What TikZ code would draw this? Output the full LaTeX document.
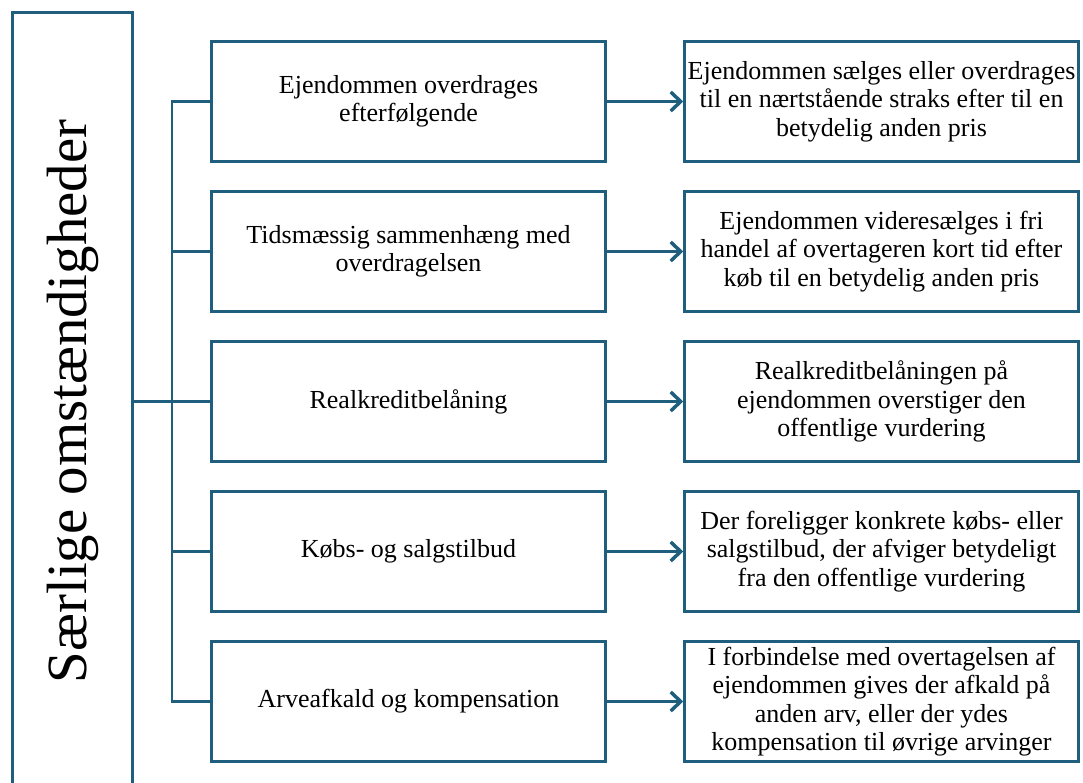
\documentclass[tikz,border=0pt]{standalone}
\usepackage{fontspec}
\setmainfont{Liberation Serif}
\definecolor{dkblue}{HTML}{1F5F7D}
\usetikzlibrary{arrows.meta,positioning}

\begin{document}
\begin{tikzpicture}[x=1pt,y=1pt,
  box/.style={draw=dkblue,line width=2.5pt,minimum width=394pt,minimum height=120pt,
    align=center,inner sep=0.5pt,font=\fontsize{26}{28.5}\selectfont},
  ln/.style={dkblue,line width=2.5pt},
  arr/.style={-{Straight Barb[length=10pt,width=19pt,line width=3.5pt]},dkblue,line width=3pt}]
  \useasboundingbox (0,0) rectangle (1083,-783);
  \clip (0,0) rectangle (1083,-783);
  \node[draw=dkblue,line width=2.5pt,rotate=90,minimum width=778pt,minimum height=120pt,
    font=\fontsize{56.8}{60}\selectfont] (title) at (72.5,-401.5) {Særlige omstændigheder};
  \node[box] (m1) at (408.5,-101.5) {Ejendommen overdrages\\efterfølgende};
  \node[box,below=27.5pt of m1] (m2) {Tidsmæssig sammenhæng med\\overdragelsen};
  \node[box,below=27.5pt of m2] (m3) {Realkreditbelåning};
  \node[box,below=27.5pt of m3] (m4) {Købs- og salgstilbud};
  \node[box,below=27.5pt of m4] (m5) {Arveafkald og kompensation};
  \node[box,right=76.5pt of m1] (r1) {Ejendommen sælges eller overdrages\\til en nærtstående straks efter til en\\betydelig anden pris};
  \node[box,right=76.5pt of m2] (r2) {Ejendommen videresælges i fri\\handel af overtageren kort tid efter\\køb til en betydelig anden pris};
  \node[box,right=76.5pt of m3] (r3) {Realkreditbelåningen på\\ejendommen overstiger den\\offentlige vurdering};
  \node[box,right=76.5pt of m4] (r4) {Der foreligger konkrete købs- eller\\salgstilbud, der afviger betydeligt\\fra den offentlige vurdering};
  \node[box,right=76.5pt of m5] (r5) {I forbindelse med overtagelsen af\\ejendommen gives der afkald på\\anden arv, eller der ydes\\kompensation til øvrige arvinger};
  % tree lines
  \coordinate (bus) at (172,-401.5);
  \draw[ln] (title.south) -- (bus);
  \draw[ln] (m1.west) -| (bus) |- (m5.west);
  \foreach \i in {2,3,4}
    \draw[ln] (bus |- m\i.west) -- (m\i.west);
  \foreach \i in {1,...,5}
    \draw[arr] (m\i) -- (r\i);
\end{tikzpicture}
\end{document}
